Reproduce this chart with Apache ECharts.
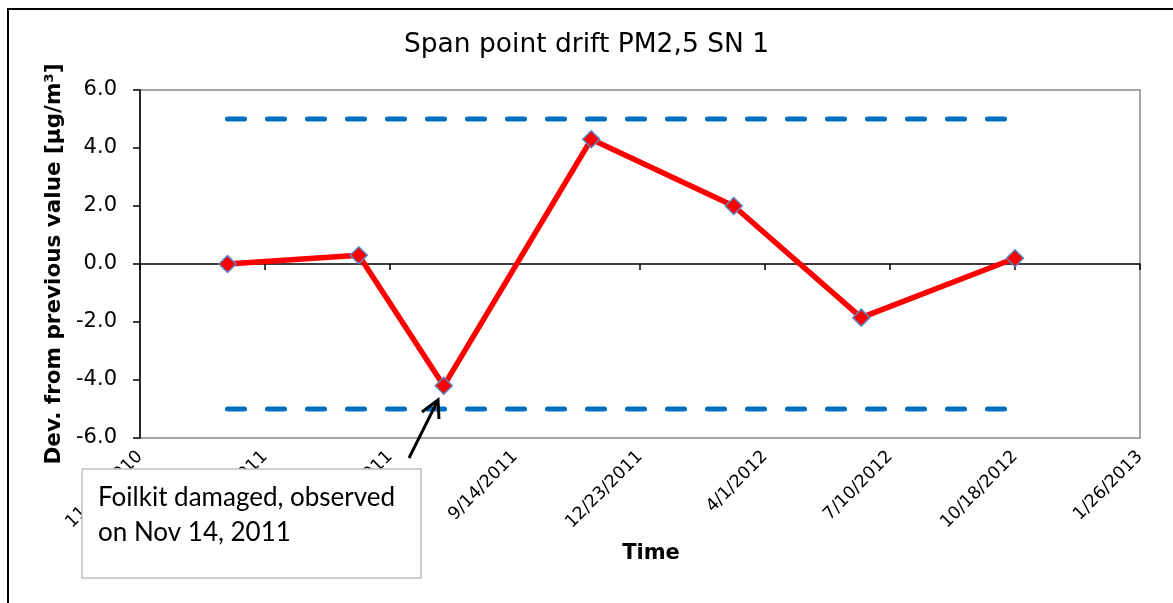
<!DOCTYPE html>
<html>
<head>
<meta charset="utf-8">
<script src="https://cdn.jsdelivr.net/npm/echarts@6/dist/echarts.min.js"></script>
<style>
  html, body { margin: 0; padding: 0; background: #fff; }
  #chart { width: 1173px; height: 603px; }
</style>
</head>
<body>
<div id="chart"></div>
<script>
// measurement dates and span drift values
var dates = ['2011-01-27', '2011-05-12', '2011-07-19', '2011-11-14', '2012-03-07', '2012-06-17', '2012-10-18'];
var drift = [0.0, 0.3, -4.2, 4.3, 2.0, -1.85, 0.2];
// tolerance limits (+/- 5)
var limitUpper = [5, 5];
var limitLower = [-5, -5];
var limitDates = ['2011-01-27', '2012-10-18'];
// x axis range: first tick and step in days
var axisStart = '2010-11-18';
var axisEnd = '2013-01-26';
var tickDays = 100;

var DAY = 86400000;
function ts(s) {
    var p = s.split('-');
    return Date.UTC(+p[0], +p[1] - 1, +p[2]);
}
function fmt(v) {
    var d = new Date(v);
    return (d.getUTCMonth() + 1) + '/' + d.getUTCDate() + '/' + d.getUTCFullYear();
}

var myChart = echarts.init(document.getElementById('chart'));

var font = 'DejaVu Sans, Arial, sans-serif';

option = {
    animation: false,
    title: {
        text: 'Span point drift PM2,5 SN 1',
        left: 'center',
        top: 27,
        textStyle: {
            fontFamily: font,
            fontSize: 26.5,
            fontWeight: 'normal',
            color: '#000'
        }
    },
    grid: {
        left: 140,
        right: 33,
        top: 90,
        bottom: 165,
        show: true,
        borderColor: '#868686',
        borderWidth: 1.5
    },
    xAxis: [{
        type: 'value',
        position: 'bottom',
        min: ts(axisStart),
        max: ts(axisEnd),
        interval: tickDays * DAY,
        name: 'Time',
        nameLocation: 'middle',
        nameGap: 105,
        nameTextStyle: {
            fontFamily: font,
            fontSize: 21,
            fontWeight: 'bold',
            color: '#000',
            padding: [0, 0, 0, 22]
        },
        axisLine: { show: false, onZero: false },
        axisTick: { show: false },
        splitLine: { show: false },
        axisLabel: {
            rotate: 45,
            margin: 16,
            fontFamily: font,
            fontSize: 17.5,
            color: '#000',
            showMinLabel: true,
            showMaxLabel: true,
            formatter: fmt
        }
    }, {
        // zero line with the date ticks
        type: 'value',
        position: 'top',
        min: ts(axisStart),
        max: ts(axisEnd),
        interval: tickDays * DAY,
        axisLine: { show: true, onZero: true, lineStyle: { color: '#000', width: 1.5 } },
        axisTick: { show: true, inside: true, length: 6, lineStyle: { color: '#000', width: 1.5 } },
        axisLabel: { show: false },
        splitLine: { show: false }
    }],
    yAxis: {
        type: 'value',
        min: -6,
        max: 6,
        interval: 2,
        name: 'Dev. from previous value [µg/m³]',
        nameLocation: 'middle',
        nameGap: 72,
        nameTextStyle: {
            fontFamily: font,
            fontSize: 21.5,
            fontWeight: 'bold',
            color: '#000'
        },
        axisLine: { show: true, onZero: false, lineStyle: { color: '#000', width: 1.5 } },
        axisTick: { show: true, length: 7, lineStyle: { color: '#000', width: 1.5 } },
        splitLine: { show: false },
        axisLabel: {
            margin: 23,
            fontFamily: font,
            fontSize: 21,
            color: '#000',
            formatter: function (v) { return v.toFixed(1); }
        }
    },
    graphic: [
        {
            type: 'rect',
            shape: { x: 8, y: 9, width: 1200, height: 700 },
            style: { fill: 'none', stroke: '#000', lineWidth: 2 },
            silent: true,
            z: 100
        },
        {
            type: 'line',
            shape: { x1: 409, y1: 458, x2: 437, y2: 402 },
            style: { stroke: '#000', lineWidth: 3 },
            z: 100
        },
        {
            type: 'polyline',
            shape: { points: [[422, 412], [438, 400], [439, 419]] },
            style: { stroke: '#000', lineWidth: 3, fill: 'none' },
            z: 100
        },
        {
            type: 'rect',
            shape: { x: 82, y: 469, width: 339, height: 109 },
            style: { fill: '#fff', stroke: '#BFBFBF', lineWidth: 1.5 },
            z: 100
        },
        {
            type: 'text',
            x: 98,
            y: 480,
            style: {
                text: 'Foilkit damaged, observed\non Nov 14, 2011',
                fontFamily: 'Lato, Carlito, sans-serif',
                fontSize: 26,
                lineHeight: 35,
                fill: '#000'
            },
            z: 101
        }
    ],
    series: [
        {
            name: 'upper limit',
            type: 'line',
            symbol: 'none',
            lineStyle: { color: '#0070C0', width: 5, type: [17, 23], cap: 'round' },
            data: limitDates.map(function (d, i) { return [ts(d), limitUpper[i]]; })
        },
        {
            name: 'lower limit',
            type: 'line',
            symbol: 'none',
            lineStyle: { color: '#0070C0', width: 5, type: [17, 23], cap: 'round' },
            data: limitDates.map(function (d, i) { return [ts(d), limitLower[i]]; })
        },
        {
            name: 'drift',
            type: 'line',
            symbol: 'diamond',
            symbolSize: 17,
            lineStyle: { color: '#FF0000', width: 5.5 },
            itemStyle: { color: '#FF0000', borderColor: '#5B87C5', borderWidth: 1.5 },
            data: dates.map(function (d, i) { return [ts(d), drift[i]]; }),
            z: 5
        }
    ]
};

myChart.setOption(option);
</script>
</body>
</html>
